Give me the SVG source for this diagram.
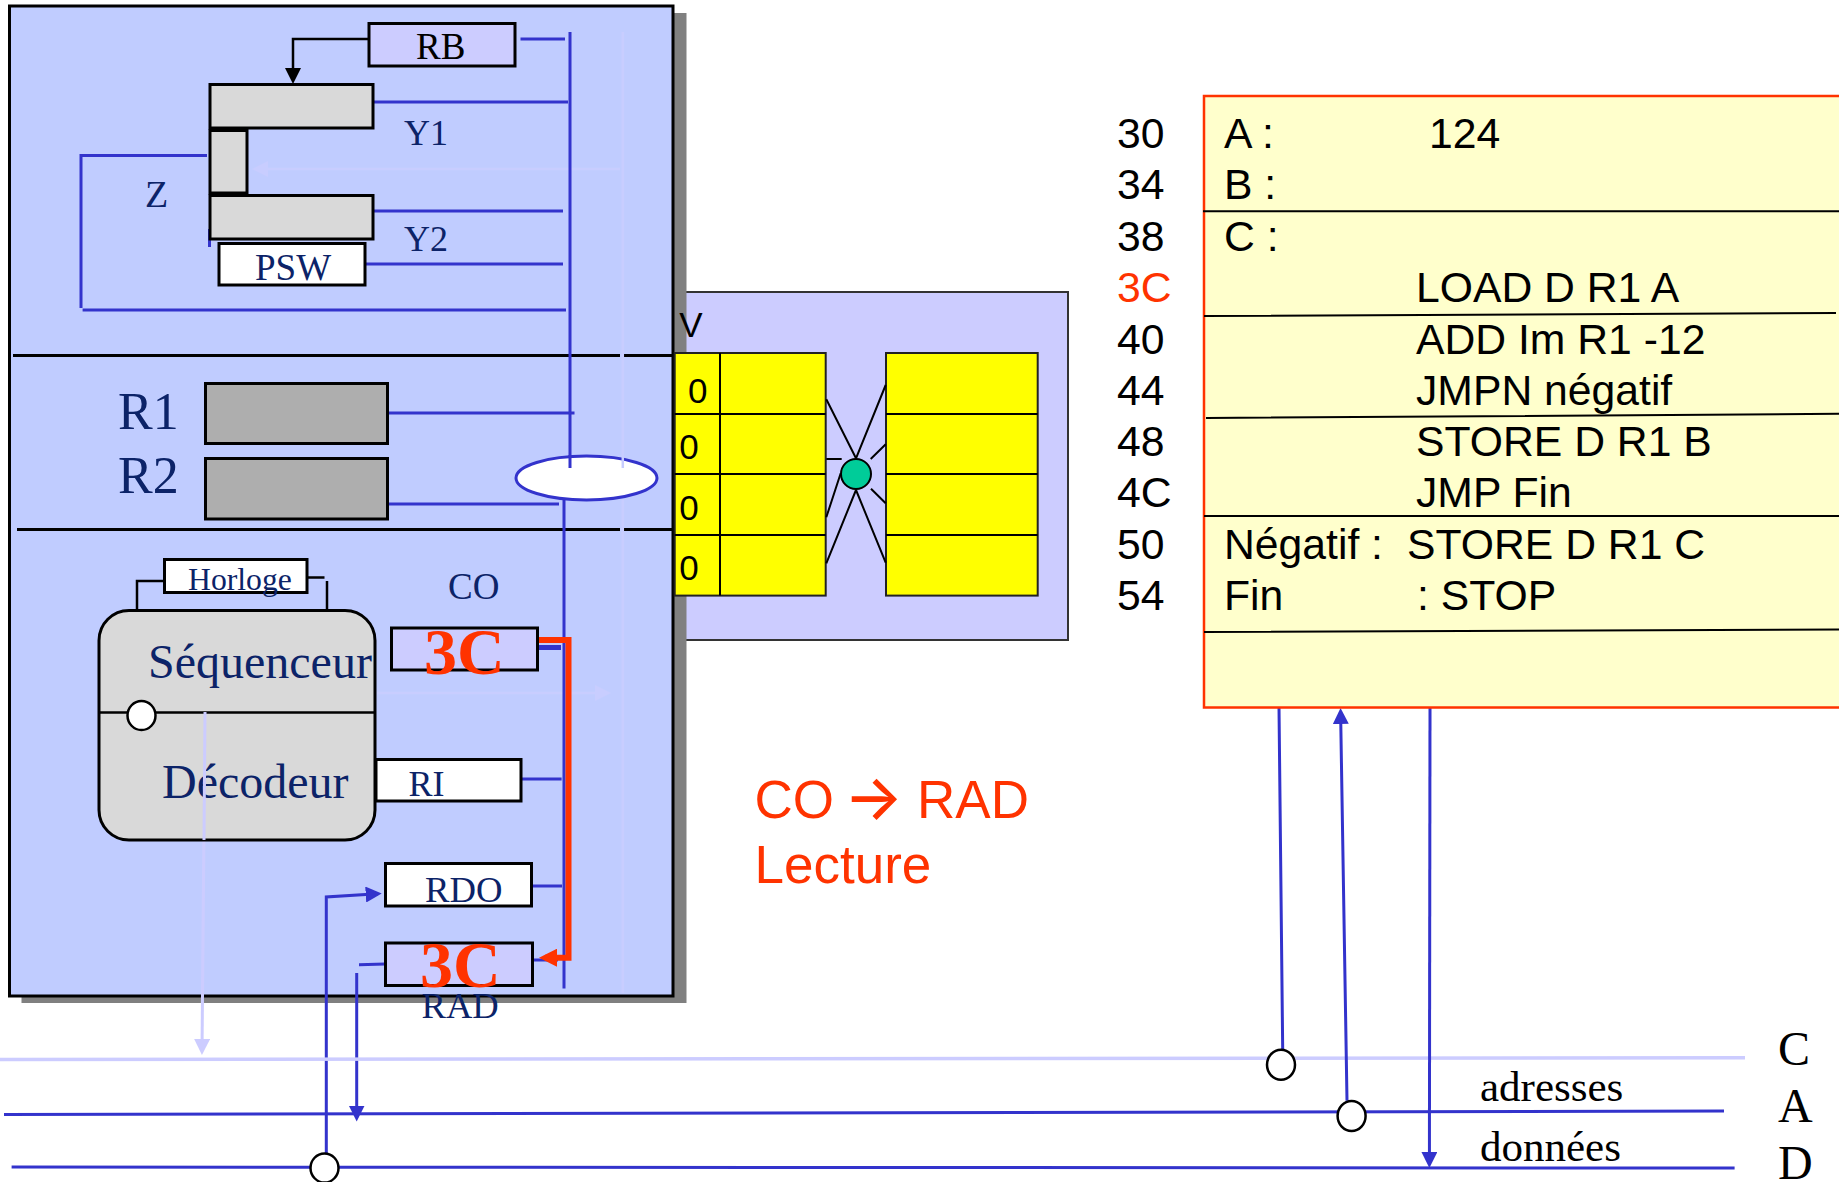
<svg xmlns="http://www.w3.org/2000/svg" width="1839" height="1182" viewBox="0 0 1839 1182">
<defs>
<style>
.ser{font-family:"Liberation Serif","Times New Roman",serif;fill:#0C2368}
.san{font-family:"Liberation Sans",Arial,sans-serif;fill:#000}
.mem{font-size:42.7px}
.blk{fill:#000}
.hot{font-family:"Liberation Serif","Times New Roman",serif;font-weight:bold;font-size:66px;fill:#FF3300}
.box{stroke:#000;stroke-width:3}
.bl{fill:none;stroke:#3333CC;stroke-width:3}
.lt{fill:none;stroke:#CCCCFF;stroke-width:3}
.ft{fill:none;stroke:#C8CDFF;stroke-width:2.5}
.k{fill:none;stroke:#000;stroke-width:2.5}
.y{fill:#FFFF00;stroke:#222;stroke-width:2}
.m{fill:none;stroke:#000;stroke-width:2}
</style>
<marker id="ab" markerUnits="userSpaceOnUse" markerWidth="16" markerHeight="16" refX="12" refY="8" orient="auto"><path d="M0,0L16,8L0,16Z" fill="#3333CC"/></marker>
<marker id="ak" markerUnits="userSpaceOnUse" markerWidth="16" markerHeight="16" refX="12" refY="8" orient="auto"><path d="M0,0L16,8L0,16Z" fill="#000"/></marker>
<marker id="al" markerUnits="userSpaceOnUse" markerWidth="16" markerHeight="16" refX="12" refY="8" orient="auto"><path d="M0,0L16,8L0,16Z" fill="#CCCCFF"/></marker>
<marker id="af" markerUnits="userSpaceOnUse" markerWidth="16" markerHeight="16" refX="12" refY="8" orient="auto"><path d="M0,0L16,8L0,16Z" fill="#C8CDFF"/></marker>
<marker id="ar" markerUnits="userSpaceOnUse" markerWidth="18" markerHeight="18" refX="12" refY="9" orient="auto"><path d="M0,0L18,9L0,18Z" fill="#FF3300"/></marker>
</defs>
<rect width="1839" height="1182" fill="#fff"/>

<g id="ual-panel">
<rect x="660" y="292" width="408" height="348" fill="#CCCCFF" stroke="#333" stroke-width="2"/>
</g>
<g id="cpu-panel">
<rect x="21.5" y="13" width="665" height="990" fill="#808080"/>
<rect x="9.5" y="6" width="663.5" height="990" fill="#C0CCFF" stroke="#000" stroke-width="3"/>
<path d="M13 355.5H620M624 355.5H673M17 529.5H620M624 529.5H673" fill="none" stroke="#000" stroke-width="3"/>
</g>

<g id="connectors">
<path class="ft" d="M622.8 32V468M622.8 499V993"/>
<path class="ft" d="M620 169H256" marker-end="url(#af)"/>
<path class="ft" d="M377 693H607" marker-end="url(#af)"/>
<path class="bl" d="M570 32V468M564 499V988.5"/>
<path class="bl" d="M520.5 39H565M373 102H568M373 211H563M365 264H563M207 155.5H81V308M82.6 310H566M209.5 229V247M388 413H574.5M388 504H559"/>
<path class="bl" d="M522 779H561.6M533 886H562M534 960H558M359 964.7L385 964"/>
<path d="M538 647.5H561" fill="none" stroke="#3333CC" stroke-width="5"/>
<path class="bl" d="M356.7 973V1117.5" marker-end="url(#ab)"/>
<path class="bl" d="M326.3 1153V897L377.7 893.8" marker-end="url(#ab)"/>
<path d="M369 39H293V80" fill="none" stroke="#000" stroke-width="2.5" marker-end="url(#ak)"/>
</g>

<g id="bus">
<path d="M0 1059.5L1745 1057.7" fill="none" stroke="#CCCCFF" stroke-width="3.5"/>
<path class="bl" d="M4 1114.5L1724 1111M11.6 1167L1734.6 1168"/>
<path class="bl" d="M1279 707L1282.7 1050M1347 1100.7L1340.6 712" marker-end="url(#ab)"/>
<path class="bl" d="M1430 707L1429.4 1164" marker-end="url(#ab)"/>
<path class="lt" d="M205 712L202 1051" marker-end="url(#al)"/>
<ellipse cx="1281" cy="1064.7" rx="14" ry="15" fill="#fff" stroke="#000" stroke-width="2.5"/>
<ellipse cx="1351.6" cy="1116" rx="14" ry="15" fill="#fff" stroke="#000" stroke-width="2.5"/>
<ellipse cx="324.5" cy="1168" rx="14" ry="14.5" fill="#fff" stroke="#000" stroke-width="2.5"/>
<text class="ser" x="1480" y="1100.5" font-size="43" style="fill:#000">adresses</text>
<text class="ser" x="1480" y="1160.5" font-size="43" style="fill:#000">données</text>
<text class="ser" x="1778" y="1064.5" font-size="48" style="fill:#000">C</text>
<text class="ser" x="1778" y="1122" font-size="48" style="fill:#000">A</text>
<text class="ser" x="1778" y="1179" font-size="48" style="fill:#000">D</text>
</g>

<g id="RB"><rect class="box" x="369" y="23.5" width="146" height="42.5" fill="#CCCCFF"/><text class="ser" x="416" y="59" font-size="37" style="fill:#000">RB</text></g>
<g id="Y1"><rect class="box" x="210" y="84.5" width="163" height="43.5" fill="#D9D9D9"/><text class="ser" x="404" y="145" font-size="36">Y1</text></g>
<g id="Z"><rect class="box" x="210" y="130.5" width="37" height="62.5" fill="#D9D9D9"/><text class="ser" x="145" y="206.5" font-size="38">Z</text></g>
<g id="Y2"><rect class="box" x="210" y="195.5" width="163" height="43.5" fill="#D9D9D9"/><text class="ser" x="404" y="251" font-size="36">Y2</text></g>
<g id="PSW"><rect class="box" x="219" y="243.5" width="146" height="41.5" fill="#fff"/><text class="ser" x="255" y="280" font-size="37">PSW</text></g>
<g id="R1"><rect class="box" x="205.5" y="383.5" width="182" height="60" fill="#AEAEAE"/><text class="ser" x="118" y="428.5" font-size="52">R1</text></g>
<g id="R2"><rect class="box" x="205.5" y="458.5" width="182" height="60.5" fill="#AEAEAE"/><text class="ser" x="118" y="492.5" font-size="52">R2</text></g>
<g id="ALU-port"><ellipse cx="586.5" cy="478" rx="70.5" ry="22" fill="#fff" stroke="#3333CC" stroke-width="3"/>
<path class="bl" d="M570 455V468"/><path class="ft" d="M622.8 455V468"/></g>

<g id="Horloge"><path class="k" d="M164 581H137V610M307 577.5H324.5M327 581V610"/><rect class="box" x="164.5" y="559.5" width="142.5" height="33" fill="#fff"/><text class="ser" x="188" y="590" font-size="31.7">Horloge</text></g>
<g id="Sequenceur"><rect x="99" y="610.5" width="276" height="229.5" rx="30" fill="#D9D9D9" stroke="#000" stroke-width="3"/><path class="k" d="M99 712.5H375"/><ellipse cx="141.5" cy="715.5" rx="14" ry="14.5" fill="#fff" stroke="#000" stroke-width="2.5"/>
<text class="ser" x="148" y="678" font-size="48">Séquenceur</text><text class="ser" x="162" y="797.5" font-size="48">Décodeur</text><path class="lt" d="M205 712L204 840"/></g>
<g id="CO"><rect class="box" x="391.5" y="628" width="146" height="42" fill="#CCCCFF"/><text class="ser" x="448" y="599" font-size="37">CO</text><text class="hot" x="424" y="674">3C</text></g>
<g id="RI"><rect class="box" x="376" y="759.5" width="145" height="41.5" fill="#fff"/><text class="ser" x="408.5" y="795.5" font-size="36">RI</text></g>
<g id="RDO"><rect class="box" x="385.5" y="863.5" width="146" height="42.5" fill="#fff"/><text class="ser" x="425" y="901.5" font-size="36.7">RDO</text></g>
<g id="RAD"><rect class="box" x="385.5" y="943" width="147" height="42.5" fill="#CCCCFF"/><text class="ser" x="421.5" y="1018" font-size="36.6">RAD</text><text class="hot" x="420" y="987">3C</text></g>
<g id="transfer"><path d="M539 640H568.5V957.7H545" fill="none" stroke="#FF3300" stroke-width="6" marker-end="url(#ar)"/></g>

<g id="registers">
<rect class="y" x="674.7" y="353" width="151" height="242.6"/>
<rect class="y" x="886" y="353" width="151.7" height="242.6"/>
<path class="m" d="M674.7 414H825.7M674.7 474H825.7M674.7 535H825.7M720 353V595.6M886 414H1037.7M886 474H1037.7M886 535H1037.7"/>
<path class="m" d="M826.3 399.3L856 458.3M885.7 385L856 458.3M826.3 459H841.7M870.7 459L885.7 444.3M826.3 517.3L840.7 473.3M871 488.7L885.7 503.3M826.3 563.3L856 490M885.7 562.7L856 490"/>
<circle cx="856" cy="474" r="15" fill="#00CC99" stroke="#000" stroke-width="2"/>
<text class="san" x="679.3" y="337.3" font-size="35">V</text>
<text class="san" x="688" y="403" font-size="35">0</text>
<text class="san" x="679.3" y="459" font-size="35">0</text>
<text class="san" x="679.3" y="520" font-size="35">0</text>
<text class="san" x="679.3" y="580" font-size="35">0</text>
</g>

<g id="memory">
<rect x="1204" y="96" width="637" height="611.5" fill="#FFFFCC" stroke="#FF3300" stroke-width="2.5"/>
<path class="m" d="M1203 211.3H1839M1204 316L1836 313M1206 418L1839 413.8M1204 516H1839M1204 632L1839 629.5"/>
<g class="mem">
<text class="san" x="1117" y="147.5">30</text><text class="san" x="1117" y="199">34</text><text class="san" x="1117" y="250.5">38</text><text class="san" x="1117" y="302" style="fill:#FF3300">3C</text><text class="san" x="1117" y="353.5">40</text><text class="san" x="1117" y="405">44</text><text class="san" x="1117" y="455.5">48</text><text class="san" x="1117" y="507">4C</text><text class="san" x="1117" y="558.5">50</text><text class="san" x="1117" y="610">54</text>
<text class="san" x="1224" y="147.5">A :</text><text class="san" x="1429" y="147.5">124</text>
<text class="san" x="1224" y="199">B :</text>
<text class="san" x="1224" y="250.5">C :</text>
<text class="san" x="1416" y="302">LOAD D R1 A</text>
<text class="san" x="1416" y="353.5">ADD Im R1 -12</text>
<text class="san" x="1416" y="405">JMPN négatif</text>
<text class="san" x="1416" y="455.5">STORE D R1 B</text>
<text class="san" x="1416" y="507">JMP Fin</text>
<text class="san" x="1224" y="558.5">Négatif :</text><text class="san" x="1407" y="558.5">STORE D R1 C</text>
<text class="san" x="1224" y="610">Fin</text><text class="san" x="1417" y="610">: STOP</text>
</g>
</g>

<g id="caption">
<text class="san" x="754.5" y="817.5" font-size="53" style="fill:#FF3300">CO</text>
<text x="844" y="819" font-size="62" font-weight="500" style="font-family:Inter,sans-serif;fill:#FF3300">→</text>
<text class="san" x="917" y="817.5" font-size="53" style="fill:#FF3300">RAD</text>
<text class="san" x="754.5" y="882.5" font-size="53" style="fill:#FF3300">Lecture</text>
</g>
</svg>
